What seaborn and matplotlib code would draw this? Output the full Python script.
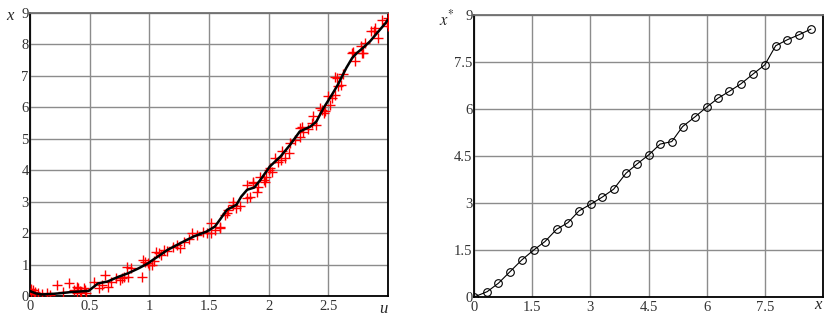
import matplotlib
matplotlib.use("Agg")
import matplotlib.pyplot as plt
import seaborn as sns
import pandas as pd

# ---- left panel: smoothed curve ----
line_u = [0.0, 0.01, 0.05, 0.10, 0.20, 0.26, 0.33, 0.40, 0.49, 0.53, 0.57, 0.65, 0.74, 0.82,
          0.91, 0.99, 1.03, 1.07, 1.15, 1.26, 1.37, 1.48, 1.55, 1.59, 1.65, 1.73, 1.77, 1.82,
          1.88, 1.93, 2.01, 2.10, 2.18, 2.26, 2.35, 2.40, 2.46, 2.53, 2.58, 2.65, 2.70, 2.74,
          2.79, 2.85, 2.91, 2.98, 3.00]
line_x = [0.17, 0.14, 0.08, 0.05, 0.07, 0.09, 0.12, 0.14, 0.16, 0.28, 0.40, 0.46, 0.61, 0.72,
          0.88, 1.04, 1.15, 1.25, 1.46, 1.68, 1.89, 2.05, 2.21, 2.42, 2.74, 2.90, 3.16, 3.38,
          3.45, 3.69, 4.12, 4.44, 4.81, 5.23, 5.39, 5.55, 5.98, 6.40, 6.72, 7.25, 7.57, 7.73,
          7.89, 8.10, 8.37, 8.68, 8.80]

# ---- left panel: noisy samples ----
pts_u = [0.01, 0.01, 0.025, 0.04, 0.03, 0.07, 0.10, 0.14, 0.17, 0.23, 0.28, 0.33, 0.37, 0.39,
         0.39, 0.40, 0.42, 0.43, 0.45, 0.46, 0.47, 0.54, 0.58, 0.60, 0.63, 0.65, 0.68, 0.72,
         0.75, 0.77, 0.79, 0.82, 0.81, 0.85, 0.94, 0.95, 0.96, 0.99, 1.00, 1.02, 1.04, 1.06,
         1.08, 1.10, 1.12, 1.15, 1.20, 1.23, 1.26, 1.29, 1.33, 1.36, 1.40, 1.45, 1.48, 1.52,
         1.52, 1.55, 1.59, 1.59, 1.63, 1.65, 1.66, 1.70, 1.70, 1.73, 1.76, 1.82, 1.82, 1.84,
         1.87, 1.87, 1.90, 1.91, 1.93, 1.96, 1.97, 1.98, 2.00, 2.01, 2.03, 2.05, 2.08, 2.10,
         2.11, 2.14, 2.17, 2.18, 2.22, 2.26, 2.26, 2.28, 2.29, 2.33, 2.36, 2.37, 2.40, 2.43,
         2.45, 2.46, 2.47, 2.50, 2.51, 2.53, 2.56, 2.56, 2.57, 2.58, 2.61, 2.62, 2.70, 2.71,
         2.72, 2.77, 2.78, 2.79, 2.81, 2.86, 2.88, 2.89, 2.92, 2.95, 2.99, 3.00, 3.00]
pts_x = [0.11, 0.22, 0.19, 0.14, 0.06, 0.09, 0.05, 0.09, 0.02, 0.35, 0.12, 0.40, 0.19, 0.11,
         0.28, 0.24, 0.17, 0.14, 0.25, 0.19, 0.11, 0.46, 0.24, 0.35, 0.67, 0.28, 0.45, 0.56,
         0.52, 0.56, 0.61, 0.61, 0.91, 0.88, 0.61, 1.15, 1.09, 1.04, 0.98, 0.99, 1.10, 1.41,
         1.36, 1.30, 1.46, 1.44, 1.55, 1.62, 1.52, 1.73, 1.80, 2.00, 1.94, 2.05, 2.00, 2.31,
         2.00, 2.10, 2.16, 2.21, 2.58, 2.63, 2.74, 2.90, 3.00, 2.79, 2.85, 3.54, 3.11, 3.16,
         3.59, 3.64, 3.32, 3.48, 3.80, 3.69, 3.64, 3.80, 4.01, 4.07, 3.95, 4.38, 4.25, 4.33,
         4.60, 4.38, 4.54, 4.86, 4.95, 5.07, 5.34, 5.39, 5.23, 5.30, 5.50, 5.71, 5.45, 5.98,
         5.92, 5.82, 5.87, 6.35, 6.08, 6.30, 6.40, 6.98, 6.93, 6.67, 6.72, 7.05, 7.73, 7.75,
         7.46, 7.94, 7.73, 7.73, 8.05, 8.42, 8.42, 8.53, 8.21, 8.79, 8.68, 8.85, 8.60]

# ---- right panel: estimate vs true ----
est_x = [0.0, 0.34, 0.63, 0.93, 1.23, 1.54, 1.83, 2.13, 2.42, 2.71, 3.02, 3.31, 3.60, 3.92,
         4.21, 4.51, 4.80, 5.10, 5.38, 5.71, 6.00, 6.30, 6.58, 6.88, 7.20, 7.50, 7.78, 8.08,
         8.38, 8.69]
est_y = [0.0, 0.17, 0.44, 0.81, 1.18, 1.50, 1.77, 2.16, 2.37, 2.75, 2.97, 3.19, 3.44, 3.95,
         4.25, 4.54, 4.88, 4.96, 5.44, 5.76, 6.06, 6.35, 6.56, 6.80, 7.12, 7.41, 8.02, 8.21,
         8.37, 8.55]

left_ticks_x = [0, 0.5, 1, 1.5, 2, 2.5, 3]
left_ticks_y = [0, 1, 2, 3, 4, 5, 6, 7, 8, 9]
right_ticks = [0, 1.5, 3, 4.5, 6, 7.5, 9]

sns.set_style("white")
plt.rcParams["font.family"] = ["Liberation Serif", "DejaVu Serif"]

fig = plt.figure(figsize=(8.3, 3.19), dpi=100)
W, H = 830, 319
axL = fig.add_axes([30 / W, 1 - 296 / H, (388 - 30) / W, (296 - 13) / H])
axR = fig.add_axes([474 / W, 1 - 297 / H, (823 - 474) / W, (297 - 15) / H])

dfL = pd.DataFrame({"u": line_u, "x": line_x})
dfP = pd.DataFrame({"u": pts_u, "x": pts_x})
dfR = pd.DataFrame({"x": est_x, "y": est_y})

sns.scatterplot(data=dfP, x="u", y="x", ax=axL, marker="+", color="#ff0000", s=55,
                linewidth=1.0, zorder=3, legend=False)
sns.lineplot(data=dfL, x="u", y="x", ax=axL, sort=False, estimator=None, color="black",
             linewidth=1.8, zorder=4, legend=False)

sns.lineplot(data=dfR, x="x", y="y", ax=axR, sort=False, estimator=None, color="black",
             linewidth=0.8, marker="o", markersize=5.5, markerfacecolor="none",
             markeredgecolor="black", markeredgewidth=0.8, zorder=4, legend=False)

for ax, xt, yt, lim in [(axL, left_ticks_x, left_ticks_y, (3, 9)),
                        (axR, right_ticks, right_ticks, (9, 9))]:
    ax.set_xlim(0, lim[0])
    ax.set_ylim(0, lim[1])
    ax.set_xticks(xt)
    ax.set_yticks(yt)
    # last x tick label is replaced by the axis variable name
    ax.set_xticklabels([f"{t:g}" for t in xt[:-1]] + [""], fontsize=10.5, color="#333333")
    ax.set_yticklabels([f"{t:g}" for t in yt], fontsize=10.5, color="#333333")
    ax.tick_params(axis="y", length=0, pad=1)
    ax.tick_params(axis="x", length=0, pad=3)
    ax.grid(True, color="#8c8c8c", linewidth=1.0)
    ax.set_axisbelow(True)
    ax.set_xlabel("")
    ax.set_ylabel("")
    for s in ["left", "bottom", "right"]:
        ax.spines[s].set_color("black")
        ax.spines[s].set_linewidth(1.3)
    ax.spines["top"].set_color("#707070")
    ax.spines["top"].set_linewidth(1.3)

fig.text(10 / W, 1 - 16 / H, "x", fontsize=12, style="italic", ha="center", va="center")
fig.text(383 / W, 1 - 309 / H, "u", fontsize=12, style="italic", ha="center", va="center")
fig.text(447 / W, 1 - 19 / H, r"$x^{*}$", fontsize=12, ha="center", va="center",
         math_fontfamily="stix")
fig.text(818 / W, 1 - 305 / H, "x", fontsize=12, style="italic", ha="center", va="center")

fig.savefig("out.png", dpi=100)
